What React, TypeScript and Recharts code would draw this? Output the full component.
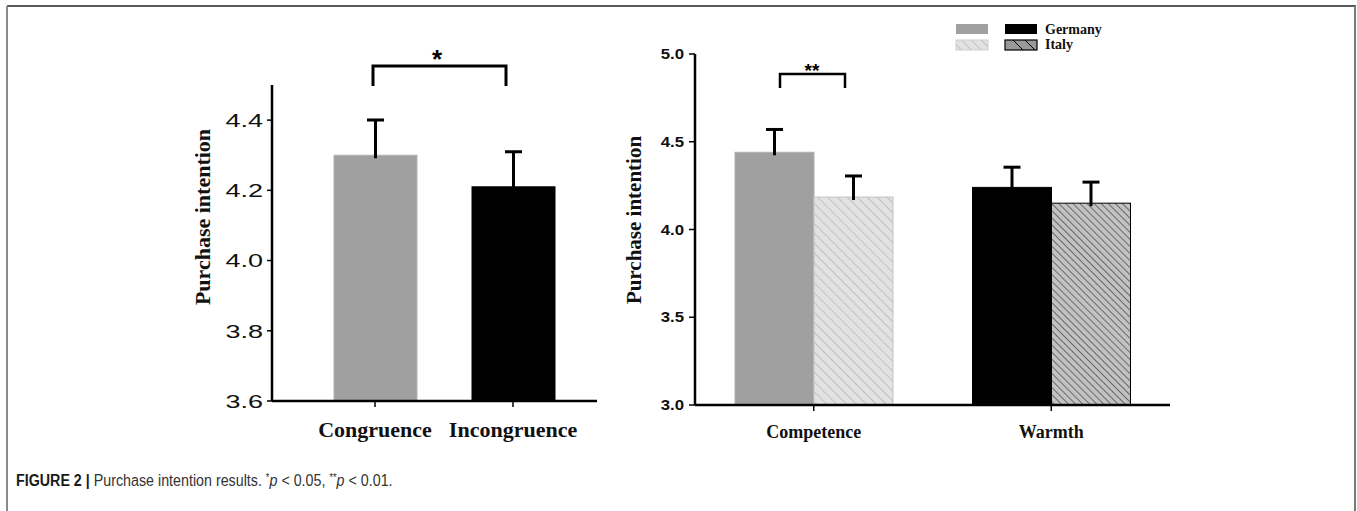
import React from 'react';
import { BarChart, Bar, XAxis, YAxis, Cell } from 'recharts';

// left panel: congruence
const leftCategories = ['Congruence', 'Incongruence'];
const leftMeans = [4.3, 4.21];
const leftErrors = [0.1, 0.1];
const leftTicks = [3.6, 3.8, 4.0, 4.2, 4.4];

// right panel: country x dimension
const rightCategories = ['Competence', 'Warmth'];
const germanyMeans = [4.44, 4.24];
const germanyErrors = [0.13, 0.115];
const italyMeans = [4.185, 4.15];
const italyErrors = [0.12, 0.12];
const rightTicks = [3.0, 3.5, 4.0, 4.5, 5.0];
const countries = ['Germany', 'Italy'];

const leftFills = ['#a0a0a0', '#000000'];
const leftStrokes = ['#b4b4b4', '#000000'];
const germanyFills = ['#a0a0a0', '#000000'];
const germanyStrokes = ['#b0b0b0', '#000000'];
const italyFills = ['url(#hatchLight)', 'url(#hatchDark)'];
const italyStrokes = ['#c4c4c4', '#000000'];

const leftData = leftCategories.map((name, i) => ({ name, mean: leftMeans[i], err: leftErrors[i] }));
const rightData = rightCategories.map((name, i) => ({
  name,
  germany: germanyMeans[i],
  germanyErr: germanyErrors[i],
  italy: italyMeans[i],
  italyErr: italyErrors[i],
}));

const serif = '"Liberation Serif", "Times New Roman", serif';
const sans = '"Liberation Sans", Arial, sans-serif';

// bar rect plus a one-sided (upper) error bar, scaled from the bar's own geometry
function ErrBarShape(props: any) {
  const { x, y, width, height, fill, stroke, payload, meanKey, errKey, base, capW } = props;
  const v = payload[meanKey];
  const e = payload[errKey];
  const px = height / (v - base);
  const yTop = y - e * px;
  const cx = x + width / 2;
  return (
    <g>
      <rect x={x} y={y} width={width} height={height} fill={fill} stroke={stroke} strokeWidth={1} />
      <line x1={cx} x2={cx} y1={y + 3} y2={yTop} stroke="#000" strokeWidth={3} />
      <line x1={cx - capW / 2} x2={cx + capW / 2} y1={yTop} y2={yTop} stroke="#000" strokeWidth={3} />
    </g>
  );
}

const LeftYTick = (p: any) => (
  <text transform={`translate(${p.x},${p.y}) scale(1.42,1)`} textAnchor="end" dy="0.36em"
    fontSize={19} fontFamily={sans} fill="#111">{Number(p.payload.value).toFixed(1)}</text>
);
const RightYTick = (p: any) => (
  <text transform={`translate(${p.x},${p.y}) scale(1.2,1)`} textAnchor="end" dy="0.36em"
    fontSize={14} fontWeight="bold" fontFamily={sans} fill="#111">{Number(p.payload.value).toFixed(1)}</text>
);
const LeftXTick = (p: any) => (
  <text x={p.x} y={p.y} dy={28} textAnchor="middle" fontSize={22} fontWeight="bold"
    fontFamily={serif} fill="#111">{p.payload.value}</text>
);
const RightXTick = (p: any) => (
  <text x={p.x} y={p.y} dy={25} textAnchor="middle" fontSize={18} fontWeight="bold"
    fontFamily={serif} fill="#111">{p.payload.value}</text>
);

export default function App() {
  return (
    <div style={{ position: 'absolute', left: 0, top: 0, width: 1357, height: 511, background: '#fff', overflow: 'hidden' }}>
      <div style={{ position: 'absolute', left: 0, top: 0 }}>
        <BarChart width={610} height={470} data={leftData} margin={{ top: 85, right: 13, bottom: 29, left: 202 }}>
          <XAxis dataKey="name" height={40} padding={{ left: 34, right: 15 }}
            axisLine={{ stroke: '#000', strokeWidth: 2.5 }} tickLine={{ stroke: '#000', strokeWidth: 1.5 }}
            tickSize={6} tick={<LeftXTick />} />
          <YAxis width={70} domain={[3.6, 4.5]} ticks={leftTicks} allowDataOverflow
            axisLine={{ stroke: '#000', strokeWidth: 2.5 }} tickLine={{ stroke: '#000', strokeWidth: 1.5 }}
            tickSize={5} tickMargin={4} tick={<LeftYTick />} />
          <Bar dataKey="mean" barSize={83} isAnimationActive={false}
            shape={(p: any) => <ErrBarShape {...p} meanKey="mean" errKey="err" base={3.6} capW={17} />}>
            {leftData.map((d, i) => <Cell key={d.name} fill={leftFills[i]} stroke={leftStrokes[i]} />)}
          </Bar>
        </BarChart>
      </div>

      <div style={{ position: 'absolute', left: 600, top: 0 }}>
        <BarChart width={600} height={470} data={rightData} barGap={0}
          margin={{ top: 54, right: 30, bottom: 25, left: 35 }}>
          <XAxis dataKey="name" height={40}
            axisLine={{ stroke: '#000', strokeWidth: 2.5 }} tickLine={{ stroke: '#000', strokeWidth: 1.5 }}
            tickSize={6} tick={<RightXTick />} />
          <YAxis width={60} domain={[3, 5]} ticks={rightTicks}
            axisLine={{ stroke: '#000', strokeWidth: 2.5 }} tickLine={{ stroke: '#000', strokeWidth: 1.5 }}
            tickSize={6} tickMargin={5} tick={<RightYTick />} />
          <Bar dataKey="germany" name={countries[0]} barSize={79} isAnimationActive={false}
            shape={(p: any) => <ErrBarShape {...p} meanKey="germany" errKey="germanyErr" base={3} capW={17} />}>
            {rightData.map((d, i) => <Cell key={d.name} fill={germanyFills[i]} stroke={germanyStrokes[i]} />)}
          </Bar>
          <Bar dataKey="italy" name={countries[1]} barSize={79} isAnimationActive={false}
            shape={(p: any) => <ErrBarShape {...p} meanKey="italy" errKey="italyErr" base={3} capW={17} />}>
            {rightData.map((d, i) => <Cell key={d.name} fill={italyFills[i]} stroke={italyStrokes[i]} />)}
          </Bar>
        </BarChart>
      </div>

      <svg width={1357} height={511} style={{ position: 'absolute', left: 0, top: 0, pointerEvents: 'none' }}>
        <defs>
          <pattern id="hatchLight" patternUnits="userSpaceOnUse" width={7} height={7} patternTransform="rotate(-45)">
            <rect width={7} height={7} fill="#e2e2e2" />
            <line x1={0} y1={0} x2={0} y2={7} stroke="#a9a9a9" strokeWidth={1.2} />
          </pattern>
          <pattern id="hatchDark" patternUnits="userSpaceOnUse" width={5} height={5} patternTransform="rotate(-45)">
            <rect width={5} height={5} fill="#c2c2c2" />
            <line x1={0} y1={0} x2={0} y2={5} stroke="#111" strokeWidth={1} />
          </pattern>
        </defs>

        {/* figure frame */}
        <line x1={7} y1={6} x2={1356} y2={6} stroke="#5a5a5a" strokeWidth={2} />
        <line x1={7} y1={6} x2={7} y2={511} stroke="#8a8a8a" strokeWidth={2} />
        <line x1={1355} y1={6} x2={1355} y2={511} stroke="#7a7a7a" strokeWidth={2} />

        {/* axis titles */}
        <text transform="translate(203,217) rotate(-90)" textAnchor="middle" dy="0.33em"
          fontSize={22} fontWeight="bold" fontFamily={serif} fill="#111">Purchase intention</text>
        <text transform="translate(634,220) rotate(-90)" textAnchor="middle" dy="0.33em"
          fontSize={21} fontWeight="bold" fontFamily={serif} fill="#111">Purchase intention</text>

        {/* significance brackets */}
        <path d="M373,86 V66 H506 V86" fill="none" stroke="#000" strokeWidth={3} />
        <text x={437} y={68} textAnchor="middle" fontSize={26} fontWeight="bold" fontFamily={sans} fill="#000">*</text>
        <path d="M780,88 V74 H845 V88" fill="none" stroke="#000" strokeWidth={2.5} />
        <text x={812} y={77} textAnchor="middle" fontSize={19} fontWeight="bold" fontFamily={sans} fill="#000">**</text>

        {/* legend */}
        <rect x={956} y={24} width={32} height={10} fill="#a0a0a0" />
        <rect x={956} y={40} width={32} height={10} fill="url(#hatchLight)" stroke="#cfcfcf" strokeWidth={1} />
        <rect x={1005} y={24} width={32} height={10} fill="#000" />
        <rect x={1005} y={40} width={32} height={10} fill="#999" stroke="#000" strokeWidth={1.2} />
        <line x1={1013} y1={40} x2={1023} y2={50} stroke="#000" strokeWidth={1} />
        <line x1={1025} y1={40} x2={1035} y2={50} stroke="#000" strokeWidth={1} />
        <text x={1045} y={34} fontSize={14} fontWeight="bold" fontFamily={serif} fill="#111">{countries[0]}</text>
        <text x={1045} y={49} fontSize={14} fontWeight="bold" fontFamily={serif} fill="#111">{countries[1]}</text>

        {/* caption */}
        <text transform="translate(16,486) scale(0.84,1)" fontSize={17} fontFamily={sans} fill="#333">
          <tspan fontWeight="bold" fill="#1a1a1a">FIGURE 2 | </tspan>
          <tspan>Purchase intention results. </tspan>
          <tspan fontSize={11} dy={-5}>*</tspan>
          <tspan fontStyle="italic" dy={5}>p</tspan>
          <tspan> {'<'} 0.05, </tspan>
          <tspan fontSize={11} dy={-5}>**</tspan>
          <tspan fontStyle="italic" dy={5}>p</tspan>
          <tspan> {'<'} 0.01.</tspan>
        </text>
      </svg>
    </div>
  );
}
